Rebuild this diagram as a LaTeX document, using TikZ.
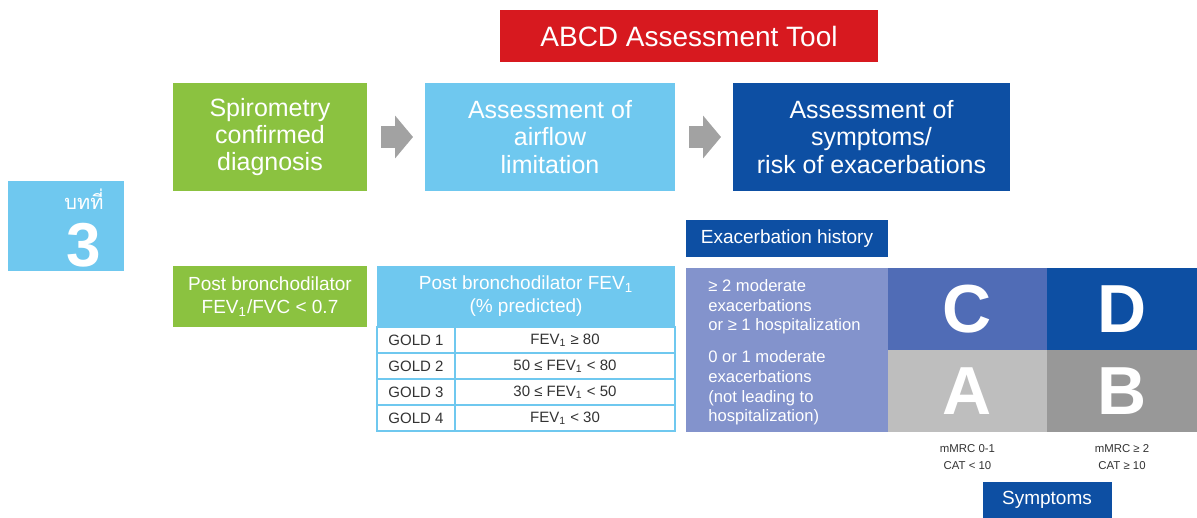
\documentclass[tikz,border=0pt]{standalone}
\usepackage{fontspec}
\setmainfont{Liberation Sans}
\newfontfamily\thaifont[Script=Thai]{Loma}
\usepackage{xcolor}
\usepackage{tikz}
\usetikzlibrary{arrows.meta,positioning}

\definecolor{cgreen}{HTML}{8BC240}
\definecolor{clight}{HTML}{6FC8EF}
\definecolor{cdark}{HTML}{0D4FA3}
\definecolor{cred}{HTML}{D7191F}
\definecolor{clav}{HTML}{8393CC}
\definecolor{cmid}{HTML}{506CB6}
\definecolor{cgreyA}{HTML}{BEBEBE}
\definecolor{cgreyB}{HTML}{989898}
\definecolor{carrow}{HTML}{A2A2A2}
\definecolor{ctext}{HTML}{333333}

\begin{document}
\begin{tikzpicture}[
x=0.5pt, y=-0.5pt,
box/.style={align=center, text=white, inner sep=0pt, outer sep=0pt},
stepbox/.style={box, minimum height=54pt, font=\fontsize{12.5}{13.6}\selectfont},
smallbox/.style={box, font=\fontsize{9.5}{11.5}\selectfont},
cell/.style={draw=clight, line width=1.2pt, fill=white, inner sep=0pt, outer sep=0pt, minimum height=13pt, text=ctext, font=\fontsize{7.5}{9}\selectfont},
grade/.style={box, minimum width=80pt, minimum height=41pt, font=\fontsize{34}{34}\selectfont\bfseries},
riskline/.style={align=left, text=white, inner sep=0pt, font=\fontsize{8.3}{9.8}\selectfont},
score/.style={align=center, text=ctext, inner sep=0pt, font=\fontsize{5.7}{8.5}\selectfont},
blockarr/.style={draw=carrow, line width=11pt, -{Triangle[length=9pt, width=21pt]}, shorten <=7pt, shorten >=6pt}
]
\useasboundingbox (0,0) rectangle (1197,518);

% --- Title ---
\node[box, fill=cred, minimum width=189pt, minimum height=26pt, font=\fontsize{14}{14}\selectfont] (title) at (689,36) {ABCD Assessment Tool};

% --- Chapter tag ---
\node[box, fill=clight, minimum width=58pt, minimum height=45pt] (chapter) at (66,226) {};
\node[text=white, inner sep=0pt, font=\thaifont\fontsize{10}{10}\selectfont] (chapword) at (84,199) {บทที่};
\node[text=white, inner sep=0pt, font=\fontsize{31}{31}\selectfont\bfseries] (chapnum) at (84,245) {3};

% --- Steps ---
\node[stepbox, fill=cgreen, minimum width=97pt] (spiro) at (270,137) {Spirometry\\confirmed\\diagnosis};
\node[stepbox, fill=clight, minimum width=125pt, right=29pt of spiro] (airflow) {Assessment of\\airflow\\limitation};
\node[stepbox, fill=cdark, minimum width=138.5pt, right=29pt of airflow] (assess) {Assessment of\\symptoms/\\risk of exacerbations};

% --- Spirometry criterion ---
\node[smallbox, fill=cgreen, minimum width=97pt, minimum height=30.5pt, below=37.5pt of spiro] (post) {Post bronchodilator\\FEV\textsubscript{1}/FVC < 0.7};

% --- GOLD table ---
\node[smallbox, fill=clight, minimum width=149pt, minimum height=30.5pt, right=5pt of post] (hdr) {Post bronchodilator FEV\textsubscript{1}\\(\% predicted)};
\node[cell, minimum width=39pt, below=0pt of hdr.south west, anchor=north west] (g1) {GOLD 1};
\node[cell, minimum width=110pt, right=0pt of g1] (v1) {FEV\textsubscript{1} ≥ 80};
\node[cell, minimum width=39pt, below=0pt of g1] (g2) {GOLD 2};
\node[cell, minimum width=110pt, right=0pt of g2] (v2) {50 ≤ FEV\textsubscript{1} < 80};
\node[cell, minimum width=39pt, below=0pt of g2] (g3) {GOLD 3};
\node[cell, minimum width=110pt, right=0pt of g3] (v3) {30 ≤ FEV\textsubscript{1} < 50};
\node[cell, minimum width=39pt, below=0pt of g3] (g4) {GOLD 4};
\node[cell, minimum width=110pt, right=0pt of g4] (v4) {FEV\textsubscript{1} < 30};

% --- ABCD grid ---
\node[smallbox, fill=cdark, minimum width=101pt, minimum height=18.5pt] (exac) at (787,238.5) {Exacerbation history};
\node[box, fill=clav, minimum width=101pt, minimum height=82pt, below=5.5pt of exac] (panel) {};
\node[riskline, anchor=west] (hirisk) at (708,307) {≥ 2 moderate\\exacerbations\\or ≥ 1 hospitalization};
\node[riskline, anchor=west] (lorisk) at (708,388) {0 or 1 moderate\\exacerbations\\(not leading to\\hospitalization)};
\node[grade, fill=cmid, minimum width=79.5pt, right=0pt of panel.north east, anchor=north west] (gC) {C};
\node[grade, fill=cdark, minimum width=75pt, right=0pt of gC] (gD) {D};
\node[grade, fill=cgreyA, minimum width=79.5pt, below=0pt of gC] (gA) {A};
\node[grade, fill=cgreyB, minimum width=75pt, right=0pt of gA] (gB) {B};

% --- Symptom scores ---
\node[score, below=6pt of gA] (lowsym) {mMRC 0-1\\CAT < 10};
\node[score, below=6pt of gB] (highsym) {mMRC ≥ 2\\CAT ≥ 10};
\node[smallbox, fill=cdark, minimum width=64.5pt, minimum height=18pt] (symptoms) at (1047,500) {Symptoms};

% --- Arrows ---
\draw[blockarr] (spiro) -- (airflow);
\draw[blockarr] (airflow) -- (assess);

\end{tikzpicture}
\end{document}
